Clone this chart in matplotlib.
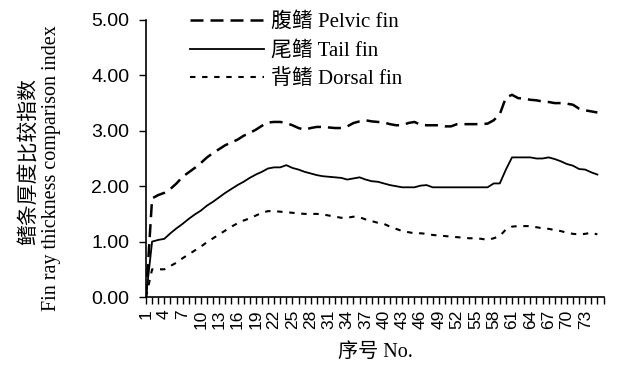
import numpy as np
import matplotlib
matplotlib.use("Agg")
import matplotlib.pyplot as plt

plt.rcParams["font.family"] = ["Liberation Serif", "Noto Sans CJK SC"]
plt.rcParams["font.size"] = 14
serif_cjk = ["Liberation Serif", "Noto Sans CJK SC"]

# >>>>>>>>>>>>>> data: thickness index per sample number
pelvic = [0.00, 1.78, 1.84, 1.88, 1.95, 2.05, 2.17, 2.25, 2.33, 2.42,
          2.52, 2.60, 2.67, 2.74, 2.79, 2.84, 2.91, 2.96, 3.02, 3.09,
          3.15, 3.16, 3.16, 3.14, 3.10, 3.05, 3.02, 3.05, 3.07, 3.07,
          3.06, 3.05, 3.05, 3.08, 3.14, 3.17, 3.19, 3.17, 3.16, 3.15,
          3.12, 3.10, 3.10, 3.14, 3.16, 3.11, 3.10, 3.10, 3.10, 3.08,
          3.08, 3.12, 3.12, 3.12, 3.12, 3.12, 3.13, 3.19, 3.30, 3.60,
          3.65, 3.59, 3.58, 3.56, 3.55, 3.53, 3.52, 3.50, 3.50, 3.49,
          3.47, 3.40, 3.37, 3.35, 3.33]
tail = [0.00, 1.00, 1.03, 1.05, 1.15, 1.24, 1.32, 1.41, 1.49, 1.56,
        1.65, 1.72, 1.80, 1.88, 1.95, 2.02, 2.08, 2.15, 2.21, 2.26,
        2.32, 2.34, 2.34, 2.38, 2.33, 2.30, 2.26, 2.23, 2.20, 2.18,
        2.17, 2.16, 2.15, 2.12, 2.14, 2.16, 2.12, 2.09, 2.08, 2.05,
        2.02, 2.00, 1.98, 1.98, 1.98, 2.01, 2.02, 1.98, 1.98, 1.98,
        1.98, 1.98, 1.98, 1.98, 1.98, 1.98, 1.98, 2.05, 2.05, 2.30,
        2.52, 2.52, 2.52, 2.52, 2.50, 2.50, 2.52, 2.49, 2.45, 2.40,
        2.37, 2.31, 2.30, 2.25, 2.21]
dorsal = [0.00, 0.50, 0.50, 0.50, 0.56, 0.62, 0.70, 0.77, 0.84, 0.91,
          0.99, 1.06, 1.13, 1.20, 1.27, 1.33, 1.38, 1.42, 1.47, 1.52,
          1.55, 1.55, 1.54, 1.53, 1.52, 1.51, 1.50, 1.50, 1.50, 1.49,
          1.47, 1.45, 1.43, 1.43, 1.45, 1.44, 1.40, 1.37, 1.34, 1.32,
          1.27, 1.23, 1.19, 1.17, 1.15, 1.15, 1.14, 1.12, 1.11, 1.10,
          1.09, 1.08, 1.07, 1.06, 1.06, 1.05, 1.03, 1.06, 1.10, 1.22,
          1.27, 1.28, 1.28, 1.28, 1.26, 1.24, 1.23, 1.21, 1.19, 1.16,
          1.14, 1.13, 1.14, 1.16, 1.13]
sample_no = np.arange(1, len(pelvic) + 1)

# >>>>>>>>>>>>>> plotting
fig = plt.figure(figsize=(6.17, 3.69), dpi=100)
ax = fig.add_axes([146 / 617, 1 - 297 / 369, 457.5 / 617, 277 / 369])

ax.plot(sample_no, pelvic, color="k", lw=1.8, ls=(0, (5.2, 2.8)), label="腹鳍 Pelvic fin")
ax.plot(sample_no, tail, color="k", lw=1.3, label="尾鳍 Tail fin")
ax.plot(sample_no, dorsal, color="k", lw=1.5, ls=(0, (2.6, 3.2)), label="背鳍 Dorsal fin")

ax.set_xlim(1, 76)
ax.set_ylim(0, 5)
ax.set_yticks(np.arange(0, 5.01, 1))
ax.set_yticklabels(["%.2f" % v for v in np.arange(0, 5.01, 1)],
                   fontfamily="Liberation Sans", fontsize=14)
ax.set_xticks(np.arange(1, 77))
ax.set_xticklabels([str(i) if (i - 1) % 3 == 0 and i <= 73 else "" for i in range(1, 77)],
                   rotation=90, fontfamily="Liberation Sans", fontsize=12.5)
ax.tick_params(axis="y", direction="out", length=5, width=1, pad=7)
ax.tick_params(axis="x", direction="out", length=5, width=1, pad=4)

for side in ["top", "right"]:
    ax.spines[side].set_visible(False)
for side in ["left", "bottom"]:
    ax.spines[side].set_linewidth(1.2)

ax.legend(loc="upper left", bbox_to_anchor=(0.055, 1.094), frameon=False,
          handlelength=3.55, handletextpad=0.35, labelspacing=0.42,
          prop={"family": serif_cjk, "size": 15})

fig.text(28 / 617, 1 - 162 / 369, "鳍条厚度比较指数", rotation=90,
         ha="center", va="center", family="Noto Sans CJK SC", fontsize=15)
fig.text(52 / 617, 1 - 168 / 369, "Fin ray thickness comparison index", rotation=90,
         ha="center", va="center", family=serif_cjk, fontsize=14.5)
fig.text(375 / 617, 1 - 352 / 369, "序号 No.", ha="center", va="center",
         family=serif_cjk, fontsize=14.5)

fig.savefig("out.png", dpi=100)
